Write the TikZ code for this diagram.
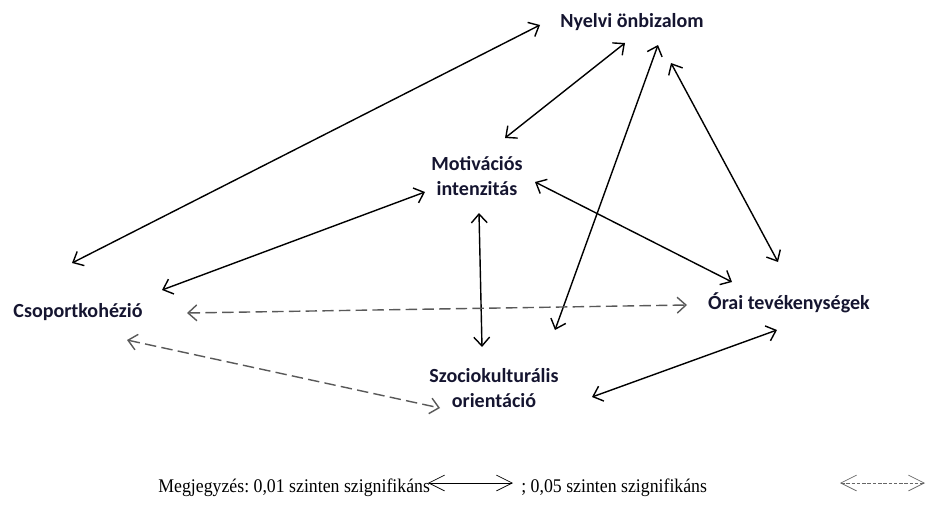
\documentclass[tikz,border=0pt]{standalone}
\usepackage{fontspec}
\setmainfont{Carlito}
\newfontfamily\legfont[FakeStretch=0.92]{Liberation Serif}
\usetikzlibrary{arrows.meta,calc}
\definecolor{txtc}{HTML}{151530}
\tikzset{
  lbl/.style={inner sep=0pt, font=\bfseries\fontsize{11.4}{14.2}\selectfont, text=txtc, align=center},
  sol/.style={line width=0.8pt, {Straight Barb[length=5pt,width=9pt]}-{Straight Barb[length=5pt,width=9pt]}},
  dsh/.style={line width=0.8pt, black!65, dash pattern=on 6.5pt off 3pt, {Straight Barb[length=5pt,width=9pt]}-{Straight Barb[length=5pt,width=9pt]}},
  leg/.style={inner sep=0pt, font=\legfont\fontsize{11}{13}\selectfont},
  legsol/.style={line width=0.4pt, {Straight Barb[length=9pt,width=9pt,line width=0.4pt]}-{Straight Barb[length=9pt,width=9pt,line width=0.4pt]}},
  legdsh/.style={line width=0.4pt, black!60, dash pattern=on 2pt off 1pt, {Straight Barb[length=9pt,width=9pt,line width=0.4pt]}-{Straight Barb[length=9pt,width=9pt,line width=0.4pt]}}
}
\begin{document}
\begin{tikzpicture}[x=0.02cm,y=-0.02cm]
\useasboundingbox (0,0) rectangle (927,507);
\node[lbl] (ny) at (632,22) {Nyelvi önbizalom};
\node[lbl] (mo) at (477,176) {Motivációs\\intenzitás};
\node[lbl] (cs) at (78,312) {Csoportkohézió};
\node[lbl] (or) at (789,303) {Órai tevékenységek};
\node[lbl] (sz) at (494,388) {Szociokulturális\\orientáció};
% solid
\draw[sol] ($(ny)+(-92,3)$) -- ($(cs)+(-6,-49)$);
\draw[sol] ($(ny)+(-7,21)$) -- ($(mo)+(28,-38)$);
\draw[sol] ($(ny)+(26,23)$) -- ($(sz)+(61,-58)$);
\draw[sol] ($(ny)+(39,41)$) -- ($(or)+(-11,-41)$);
\draw[sol] ($(mo)+(-52,16)$) -- ($(cs)+(84,-22)$);
\draw[sol] ($(mo)+(58,6)$) -- ($(or)+(-57,-21)$);
\draw[sol] ($(mo)+(2,37)$) -- ($(sz)+(-12,-41)$);
\draw[sol] ($(sz)+(98,9)$) -- ($(or)+(-12,27)$);
% dashed
\draw[dsh] ($(cs)+(109,1)$) -- ($(or)+(-102,2)$);
\draw[dsh] ($(cs)+(49,28)$) -- ($(sz)+(-54,20)$);
% legend
\node[leg, anchor=base west] (l1) at (158,492) {Megjegyzés:\ 0,01 szinten szignifikáns};
\coordinate (a1) at (428,483);
\coordinate (a2) at (513,483);
\draw[legsol] (a1) -- (a2);
\node[leg, anchor=base west] (l2) at (521,492) {; 0,05 szinten szignifikáns};
\coordinate (b1) at (840,483);
\coordinate (b2) at (925,483);
\draw[legdsh] (b1) -- (b2);
\end{tikzpicture}
\end{document}
